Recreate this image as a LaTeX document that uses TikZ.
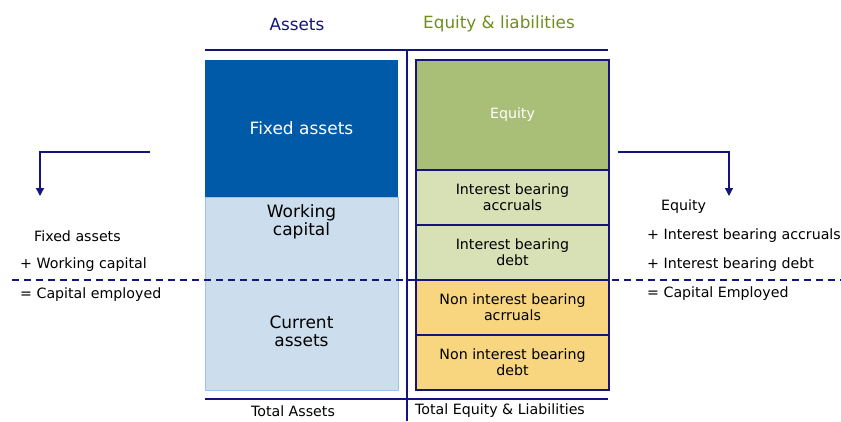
\documentclass[tikz,border=0pt]{standalone}
\usepackage{fontspec}
\setmainfont{DejaVu Sans}
\usepackage{xcolor}
\usepackage{tikz}
\usetikzlibrary{positioning, arrows.meta}

\definecolor{navy}{HTML}{14147A}
\definecolor{olive}{HTML}{6F8E1E}
\definecolor{fixedblue}{HTML}{005AA8}
\definecolor{lightblue}{HTML}{CCDDEE}
\definecolor{paleblue}{HTML}{9DC3E6}
\definecolor{equitygreen}{HTML}{A9BE77}
\definecolor{palegreen}{HTML}{D7E1B5}
\definecolor{paleyellow}{HTML}{F8D57F}

\begin{document}
\begin{tikzpicture}[x=1pt,y=-1pt]
	\tikzstyle{block}=[rectangle,inner sep=0pt,outer sep=0pt,minimum width=193pt,align=center,font=\fontsize{14.2}{16}\selectfont]
	\tikzstyle{liab}=[block,draw=navy,line width=1.2pt,minimum height=55pt]
	\tikzstyle{calc}=[anchor=west,inner sep=0pt,font=\fontsize{14.2}{16}\selectfont]
	\tikzstyle{head}=[inner sep=0pt,font=\fontsize{16.8}{20}\selectfont]
	\useasboundingbox (0,0) rectangle (841,421);
	% headers
	\node[head,text=navy](hassets) at (297,24) {Assets};
	\node[head,text=olive](hequity) at (499,24) {Equity \& liabilities};
	% assets side
	\node[block,fill=fixedblue,minimum height=137pt,text=white,font=\fontsize{17}{19}\selectfont](fixed) at (301.5,128.5) {Fixed assets};
	\node[block,fill=lightblue,draw=paleblue,line width=1pt,minimum height=193pt](current) at (301.5,293.5) {};
	\node[block,font=\fontsize{17}{18}\selectfont](wc) at (301.5,222) {Working\\capital};
	\node[block,font=\fontsize{17}{18}\selectfont](ca) at (301.5,331) {Current\\assets};
	% liabilities side
	\node[liab,fill=equitygreen,minimum height=110pt,text=white](equity) at (512.5,115) {Equity};
	\node[liab,fill=palegreen](iba) at (512.5,197.5) {Interest bearing\\accruals};
	\node[liab,fill=palegreen](ibd) at (512.5,252.5) {Interest bearing\\debt};
	\node[liab,fill=paleyellow](niba) at (512.5,307.5) {Non interest bearing\\acrruals};
	\node[liab,fill=paleyellow](nibd) at (512.5,362.5) {Non interest bearing\\debt};
	% frame
	\coordinate (tl) at (205,50);
	\coordinate (tr) at (608,50);
	\coordinate (bl) at (205,399);
	\coordinate (br) at (608,399);
	\coordinate (vt) at (407,50);
	\coordinate (vb) at (407,421);
	\draw[navy,line width=1.3pt](tl) -- (tr);
	\draw[navy,line width=1.3pt](bl) -- (br);
	\draw[navy,line width=1.3pt](vt) -- (vb);
	\node[calc,anchor=center](tassets) at (293,411) {Total Assets};
	\node[calc,anchor=center](tequity) at (500,411) {Total Equity \& Liabilities};
	% dashed split
	\coordinate (dl) at (12,280);
	\coordinate (dr) at (841,280);
	\draw[navy,line width=1.2pt,dash pattern=on 7pt off 5pt](dl) -- (dr);
	% left calculation
	\coordinate (las) at (150,152);
	\coordinate (lae) at (40,196);
	\draw[navy,line width=1.3pt,-{Triangle[width=8pt,length=8pt]}](las) -| (lae);
	\node[calc](l1) at (34,236) {Fixed assets};
	\node[calc](l2) at (20,265) {+ Working capital};
	\node[calc](l3) at (20,295) {= Capital employed};
	% right calculation
	\coordinate (ras) at (618,152);
	\coordinate (rae) at (729,196);
	\draw[navy,line width=1.3pt,-{Triangle[width=8pt,length=8pt]}](ras) -| (rae);
	\node[calc](r1) at (661,207) {Equity};
	\node[calc](r2) at (647,236) {+ Interest bearing accruals};
	\node[calc](r3) at (647,265) {+ Interest bearing debt};
	\node[calc](r4) at (647,294) {= Capital Employed};
\end{tikzpicture}
\end{document}
